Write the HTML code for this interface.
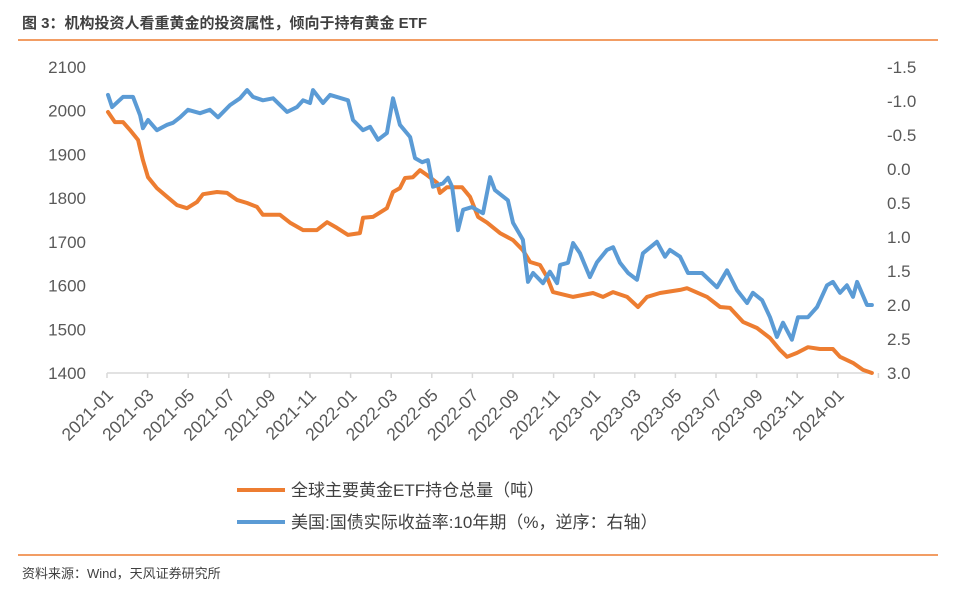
<!DOCTYPE html>
<html><head><meta charset="utf-8"><style>
html,body{margin:0;padding:0;background:#fff;width:953px;height:589px;overflow:hidden;font-family:"Liberation Sans","Noto Sans CJK SC",sans-serif}
</style></head><body>
<svg width="953" height="589" viewBox="0 0 953 589">
<text x="22" y="28" font-size="15" font-weight="bold" fill="#404040" font-family="Liberation Sans, Noto Sans CJK SC, sans-serif">图 3：机构投资人看重黄金的投资属性，倾向于持有黄金 ETF</text>
<line x1="18" y1="40" x2="938" y2="40" stroke="#ED7D31" stroke-width="1.5"/>
<g id="yl"></g>
<g id="yr"></g>
<g id="xa"></g>
<g id="series"></g>
<line x1="237" y1="490" x2="285" y2="490" stroke="#ED7D31" stroke-width="4"/>
<text x="291" y="496" font-size="17" fill="#404040">全球主要黄金ETF持仓总量（吨）</text>
<line x1="237" y1="522" x2="285" y2="522" stroke="#5B9BD5" stroke-width="4"/>
<text x="291" y="528" font-size="17" fill="#404040">美国:国债实际收益率:10年期（%，逆序：右轴）</text>
<line x1="18" y1="555" x2="938" y2="555" stroke="#ED7D31" stroke-width="1.5"/>
<text x="22" y="578" font-size="13" fill="#404040">资料来源：Wind，天风证券研究所</text>
</svg>
<script>
const xLabels=["2021-01","2021-03","2021-05","2021-07","2021-09","2021-11","2022-01","2022-03","2022-05","2022-07","2022-09","2022-11","2023-01","2023-03","2023-05","2023-07","2023-09","2023-11","2024-01"];
const leftTicks=[1400,1500,1600,1700,1800,1900,2000,2100];
const rightTicks=[-1.5,-1.0,-0.5,0.0,0.5,1.0,1.5,2.0,2.5,3.0];
const goldMonths=[0.05,0.39,0.79,1.13,1.53,1.77,2.02,2.46,2.96,3.45,3.94,4.43,4.73,5.42,5.91,6.40,6.90,7.39,7.68,8.52,9.01,9.66,10.34,10.84,11.33,11.87,12.46,12.61,13.10,13.79,14.09,14.43,14.68,15.07,15.42,15.76,16.26,16.40,16.75,17.49,17.88,18.28,18.72,19.36,20.0,20.49,20.84,21.33,21.67,21.97,22.96,23.94,24.43,24.93,25.62,26.16,26.6,27.24,28.23,28.57,29.56,30.2,30.69,31.33,32.02,32.66,33.15,33.5,33.99,34.53,35.12,35.76,36.11,36.75,37.24,37.68];
const goldTons=[1997,1974,1974,1956,1933,1887,1848,1823,1803,1784,1777,1791,1809,1814,1812,1796,1789,1780,1762,1762,1744,1727,1727,1745,1732,1716,1720,1755,1757,1777,1814,1823,1846,1848,1864,1853,1835,1812,1825,1825,1803,1757,1744,1720,1704,1681,1654,1647,1620,1585,1574,1583,1574,1585,1574,1551,1574,1583,1590,1594,1574,1551,1549,1517,1503,1480,1453,1437,1446,1459,1455,1455,1437,1423,1407,1400];
const yieldMonths=[0.05,0.25,0.79,1.28,1.63,1.77,2.02,2.46,2.96,3.25,3.6,3.99,4.58,5.07,5.47,6.06,6.55,6.9,7.19,7.68,8.18,8.87,9.36,9.66,10.0,10.15,10.64,10.99,11.87,12.12,12.61,12.96,13.35,13.79,14.09,14.43,14.93,15.17,15.52,15.81,16.06,16.55,16.8,17.0,17.29,17.54,17.98,18.52,18.87,19.11,19.75,20.0,20.49,20.74,20.99,21.48,21.82,22.17,22.32,22.71,22.96,23.3,23.79,24.14,24.63,24.93,25.27,25.67,26.11,26.4,27.09,27.49,27.73,28.23,28.62,29.31,30.05,30.54,31.03,31.53,31.82,32.27,32.66,33.0,33.3,33.74,34.04,34.53,34.98,35.47,35.76,36.11,36.45,36.75,36.95,37.44,37.68];
const yieldPct=[-1.09,-0.91,-1.06,-1.06,-0.79,-0.60,-0.72,-0.57,-0.65,-0.68,-0.76,-0.87,-0.82,-0.87,-0.76,-0.94,-1.04,-1.16,-1.06,-1.01,-1.04,-0.84,-0.91,-1.01,-0.97,-1.16,-0.97,-1.09,-1.01,-0.72,-0.57,-0.62,-0.43,-0.53,-1.04,-0.65,-0.47,-0.16,-0.10,-0.13,0.26,0.21,0.13,0.26,0.90,0.60,0.56,0.65,0.12,0.31,0.46,0.79,1.04,1.66,1.53,1.68,1.51,1.68,1.41,1.38,1.09,1.24,1.59,1.37,1.19,1.15,1.38,1.53,1.63,1.24,1.07,1.29,1.19,1.29,1.53,1.53,1.74,1.49,1.78,1.97,1.82,1.93,2.18,2.47,2.26,2.51,2.18,2.18,2.03,1.71,1.66,1.82,1.71,1.88,1.66,2.00,2.00];

const NS="http://www.w3.org/2000/svg";
const X0=107,MW=20.3,YT=67,YB=373;
const xS=m=>X0+m*MW;
const yL=v=>YB-(v-1400)/700*(YB-YT);
const yR=v=>YT+(v+1.5)/4.5*(YB-YT);
function mk(tag,attrs,parent){const e=document.createElementNS(NS,tag);for(const k in attrs)e.setAttribute(k,attrs[k]);parent.appendChild(e);return e;}
const yl=document.getElementById('yl'),yr=document.getElementById('yr'),xa=document.getElementById('xa'),sg=document.getElementById('series');
leftTicks.forEach(v=>{const t=mk('text',{x:86,y:yL(v)+6,'text-anchor':'end','font-size':17,fill:'#595959'},yl);t.textContent=v;

});
rightTicks.forEach(v=>{const t=mk('text',{x:887,y:yR(v)+6,'font-size':17,fill:'#595959'},yr);t.textContent=v.toFixed(1);

});
const ax=mk('line',{x1:X0,y1:YB,x2:872,y2:YB,stroke:'#d9d9d9','stroke-width':1.5},xa);


for(let i=0;i<=19;i++){const tk=mk('line',{x1:xS(i*2),y1:YB,x2:xS(i*2),y2:YB+5,stroke:'#d9d9d9','stroke-width':1.5},xa);

}
xLabels.forEach((s,i)=>{const x=xS(i*2)+4,y=YB+20;const t=mk('text',{x:x,y:y,'text-anchor':'end','font-size':17.5,fill:'#595959',transform:`rotate(-45 ${x} ${y})`,'dominant-baseline':'middle'},xa);t.textContent=s;

});
function path(ms,vs,yf,col,name){let d='';ms.forEach((m,i)=>{d+=(i?'L':'M')+xS(m).toFixed(1)+','+yf(vs[i]).toFixed(1);});
const p=mk('path',{d:d,fill:'none',stroke:col,'stroke-width':4,'stroke-linejoin':'round','stroke-linecap':'round'},sg);

}
path(goldMonths,goldTons,yL,'#ED7D31','gold-etf-line');
path(yieldMonths,yieldPct,yR,'#5B9BD5','real-yield-line');
</script>
</body></html>
